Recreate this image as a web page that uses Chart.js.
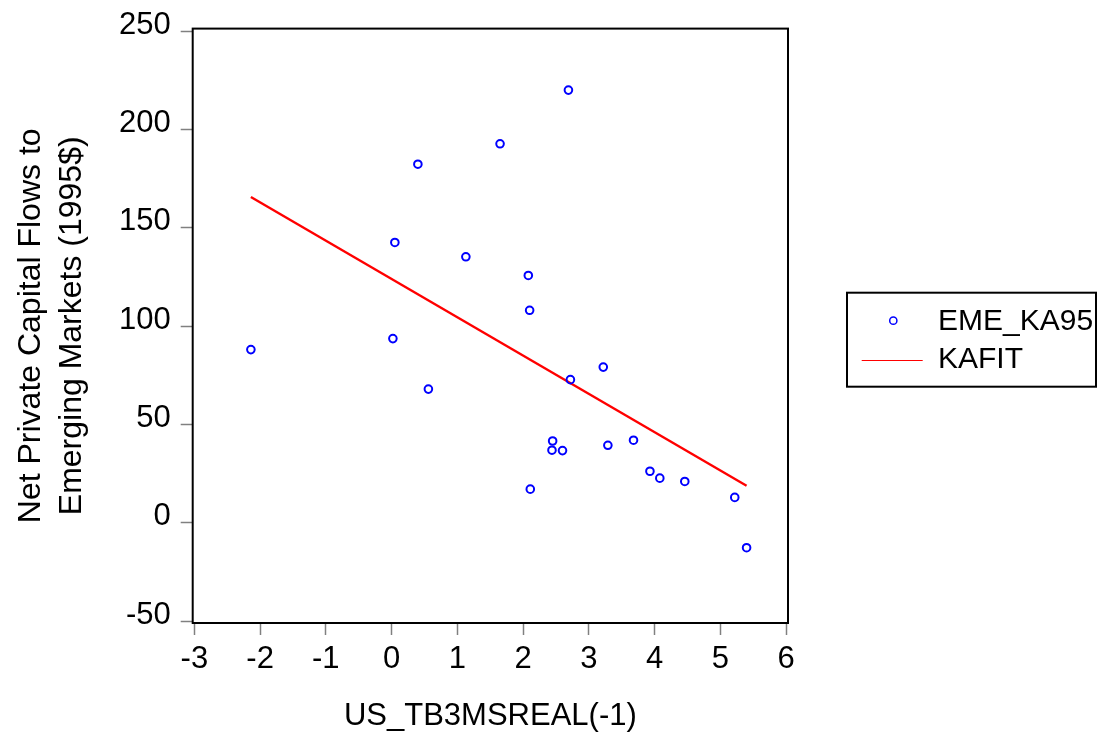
<!DOCTYPE html>
<html><head><meta charset="utf-8">
<script src="https://cdn.jsdelivr.net/npm/chart.js@4.4.1/dist/chart.umd.min.js"></script>
<style>html,body{margin:0;padding:0;background:#fff;}canvas{display:block;}</style>
</head><body>
<canvas id="c" width="1098" height="734"></canvas>
<script>
// ---- data ----
const xTickValues = [-3, -2, -1, 0, 1, 2, 3, 4, 5, 6];
const yTickValues = [-50, 0, 50, 100, 150, 200, 250];
const emeX = [0.40, 0.05, 1.13, 2.69, 1.65, 2.08, 2.10, -2.14, 0.02, 0.56, 2.72, 3.22, 2.45, 2.44, 2.60, 3.29, 3.68, 2.11, 3.93, 4.08, 4.46, 5.22, 5.40];
const emeY = [182.4, 142.6, 135.3, 220.1, 192.8, 125.8, 108.1, 88.1, 93.7, 68.0, 72.8, 79.2, 41.6, 36.9, 36.7, 39.4, 42.0, 17.1, 26.2, 22.7, 21.0, 12.9, -12.7];
const kafitX = [-2.14, 5.40];
const kafitY = [165.7, 18.8];
const seriesNames = ['EME_KA95', 'KAFIT'];
const xTitle = 'US_TB3MSREAL(-1)';
const yTitle = ['Net Private Capital Flows to', 'Emerging Markets (1995$)'];

const FONT = '"Liberation Sans", Arial, sans-serif';

const framePlugin = {
  id: 'frame',
  afterDatasetsDraw(chart) {
    const a = chart.chartArea, ctx = chart.ctx;
    ctx.save();
    ctx.lineWidth = 2;
    ctx.strokeStyle = '#000';
    ctx.strokeRect(a.left, a.top, a.right - a.left, a.bottom - a.top);
    ctx.restore();
  }
};

const legendPlugin = {
  id: 'boxLegend',
  afterDraw(chart) {
    const ctx = chart.ctx;
    const ds = chart.data.datasets;
    ctx.save();
    ctx.lineWidth = 2;
    ctx.strokeStyle = '#000';
    ctx.strokeRect(847, 292.7, 249, 94);
    ctx.beginPath();
    ctx.lineWidth = 1.5;
    ctx.strokeStyle = ds[0].borderColor;
    ctx.arc(893.3, 320.7, 3.6, 0, Math.PI * 2);
    ctx.stroke();
    ctx.beginPath();
    ctx.lineWidth = 1.2;
    ctx.strokeStyle = ds[1].borderColor;
    ctx.moveTo(861.7, 360.5);
    ctx.lineTo(922.7, 360.5);
    ctx.stroke();
    ctx.fillStyle = '#000';
    ctx.font = '30px ' + FONT;
    ctx.textBaseline = 'middle';
    ctx.textAlign = 'left';
    ctx.fillText(ds[0].label, 938, 321.3);
    ctx.fillText(ds[1].label, 938, 359.6);
    ctx.restore();
  }
};

new Chart(document.getElementById('c'), {
  type: 'scatter',
  data: {
    datasets: [
      {
        label: seriesNames[0],
        data: emeX.map((x, i) => ({ x: x, y: emeY[i] })),
        showLine: false,
        borderColor: '#0000FF',
        backgroundColor: 'rgba(0,0,0,0)',
        pointRadius: 3.8,
        pointBorderWidth: 2,
        pointHoverRadius: 3.8
      },
      {
        label: seriesNames[1],
        data: kafitX.map((x, i) => ({ x: x, y: kafitY[i] })),
        showLine: true,
        borderColor: '#FF0000',
        backgroundColor: '#FF0000',
        borderWidth: 2.4,
        pointRadius: 0,
        pointHoverRadius: 0
      }
    ]
  },
  options: {
    responsive: false,
    animation: false,
    devicePixelRatio: 1,
    layout: { padding: { left: 0, right: 310, top: 27.3, bottom: 0 } },
    plugins: { legend: { display: false }, tooltip: { enabled: false } },
    scales: {
      x: {
        type: 'linear',
        min: -3.025,
        max: 6.03,
        afterBuildTicks: s => { s.ticks = xTickValues.map(v => ({ value: v })); },
        afterFit: s => { s.height = 111; },
        grid: { drawOnChartArea: false, drawTicks: true, tickLength: 12, tickColor: '#808080', tickWidth: 1.5 },
        border: { display: false },
        ticks: { color: '#000', font: { family: FONT, size: 31, lineHeight: 1.2 }, padding: 6, maxRotation: 0, autoSkip: false },
        title: { display: true, text: xTitle, color: '#000', font: { family: FONT, size: 31, lineHeight: 1.0 }, padding: { top: 0, bottom: 2 } }
      },
      y: {
        type: 'linear',
        min: -51.0,
        max: 251.4,
        afterBuildTicks: s => { s.ticks = yTickValues.map(v => ({ value: v })); },
        afterFit: s => { s.width = 192.7; },
        grid: { drawOnChartArea: false, drawTicks: true, tickLength: 12, tickColor: '#808080', tickWidth: 1.5 },
        border: { display: false },
        ticks: { color: '#000', font: { family: FONT, size: 31, lineHeight: 1.2 }, padding: 10, labelOffset: -6, autoSkip: false },
        title: { display: true, text: yTitle, color: '#000', font: { family: FONT, size: 32, lineHeight: 1.28 }, padding: { top: 10.6, bottom: 0 } }
      }
    }
  },
  plugins: [framePlugin, legendPlugin]
});
</script>
</body></html>
